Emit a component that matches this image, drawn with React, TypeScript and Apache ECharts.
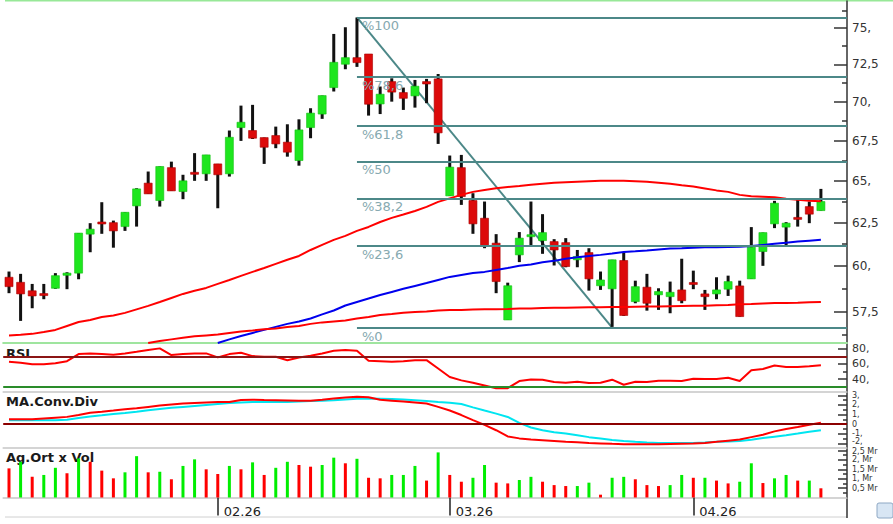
import { useEffect, useRef } from 'react';
import * as echarts from 'echarts';

// ---------- DATA ----------
// daily candles: [open, high, low, close]
const candleOHLC: [number, number, number, number][] = [
  [59.38, 59.70, 58.50, 58.86], [59.10, 59.57, 57.00, 58.46], [58.63, 59.01, 57.68, 58.35], [58.46, 59.01, 58.17, 58.39],
  [58.77, 59.61, 58.74, 59.47], [59.49, 59.66, 58.72, 59.61], [59.61, 61.89, 59.27, 61.89], [61.83, 62.47, 60.79, 62.12],
  [62.53, 63.71, 61.85, 62.43], [62.50, 62.62, 61.05, 62.02], [62.27, 63.11, 62.02, 63.11], [63.49, 64.55, 62.27, 64.51],
  [64.86, 65.57, 64.21, 64.21], [63.81, 65.88, 63.45, 65.88], [65.81, 66.18, 64.39, 64.39], [64.35, 65.37, 63.89, 65.00],
  [65.51, 66.71, 65.00, 65.41], [65.43, 66.60, 65.00, 66.60], [66.04, 66.04, 63.35, 65.37], [65.43, 68.14, 65.26, 67.71],
  [68.33, 69.75, 67.48, 68.67], [68.14, 69.80, 67.60, 67.65], [67.69, 67.69, 66.04, 67.08], [67.82, 68.39, 67.02, 67.29],
  [67.40, 68.54, 66.49, 66.77], [66.25, 68.86, 65.93, 68.18], [68.33, 69.58, 67.65, 69.26], [69.20, 70.41, 68.89, 70.41],
  [70.94, 74.60, 70.68, 72.64], [72.51, 75.07, 72.17, 72.96], [72.96, 75.76, 72.33, 72.62], [73.21, 73.21, 69.10, 69.84],
  [69.86, 71.01, 69.20, 70.50], [71.34, 71.56, 70.01, 70.64], [70.61, 70.94, 69.47, 70.23], [70.39, 71.45, 69.62, 71.03],
  [71.34, 71.52, 69.91, 71.18], [71.52, 71.85, 67.29, 67.99], [64.09, 66.56, 64.09, 65.84], [65.81, 66.60, 63.55, 64.05],
  [63.81, 64.25, 61.85, 62.43], [62.76, 63.75, 61.02, 61.17], [61.31, 61.83, 58.50, 59.14], [57.05, 59.08, 57.05, 58.91],
  [60.64, 61.95, 60.23, 61.60], [61.69, 63.75, 61.15, 61.79], [61.46, 63.00, 60.70, 61.92], [61.40, 61.54, 60.04, 60.92],
  [61.34, 61.60, 59.94, 59.98], [60.36, 60.92, 59.94, 60.55], [60.77, 61.02, 58.64, 59.29], [58.91, 59.70, 58.68, 59.23],
  [58.74, 60.36, 56.68, 60.36], [60.32, 60.79, 57.27, 57.29], [58.04, 59.19, 57.95, 58.86], [58.83, 59.57, 57.55, 57.95],
  [58.41, 58.77, 57.59, 58.59], [58.31, 59.14, 57.41, 58.55], [58.68, 60.42, 57.95, 58.09], [59.08, 59.75, 58.72, 58.99],
  [58.46, 58.68, 57.59, 58.31], [58.46, 59.38, 58.17, 58.68], [58.72, 59.47, 58.35, 59.14], [58.90, 59.19, 57.23, 57.23],
  [59.29, 62.24, 59.29, 61.08], [60.83, 61.92, 60.02, 61.92], [62.43, 63.79, 62.18, 63.65], [62.24, 62.53, 61.11, 62.47],
  [62.80, 63.91, 62.27, 62.70], [63.45, 63.75, 62.47, 63.00], [63.21, 64.51, 63.21, 63.75],
];

// moving averages (price)
const ma1: number[] = [
  56.23, 56.26, 56.31, 56.41, 56.52, 56.73, 56.94, 57.05, 57.21, 57.29,
  57.43, 57.62, 57.81, 58.02, 58.24, 58.46, 58.63, 58.79, 59.01, 59.23,
  59.46, 59.68, 59.90, 60.13, 60.36, 60.58, 60.92, 61.21, 61.50, 61.73,
  62.02, 62.25, 62.54, 62.78, 62.98, 63.19, 63.43, 63.73, 63.94, 64.15,
  64.33, 64.45, 64.55, 64.63, 64.69, 64.76, 64.82, 64.88, 64.91, 64.94,
  64.97, 65.00, 65.00, 65.00, 64.97, 64.94, 64.88, 64.82, 64.73, 64.65,
  64.54, 64.42, 64.33, 64.15, 64.06, 64.03, 64.00, 63.91, 63.85, 63.79,
  63.76,
];
const ma2Start = 18;
const ma2: number[] = [
  55.83, 56.02, 56.20, 56.36, 56.52, 56.68, 56.84, 56.97, 57.13, 57.35,
  57.56, 57.83, 58.02, 58.21, 58.40, 58.57, 58.74, 58.90, 59.06, 59.23,
  59.40, 59.51, 59.62, 59.68, 59.79, 59.90, 60.02, 60.10, 60.22, 60.30,
  60.42, 60.50, 60.58, 60.64, 60.72, 60.81, 60.84, 60.89, 60.95, 61.00,
  61.02, 61.05, 61.07, 61.08, 61.09, 61.11, 61.15, 61.21, 61.27, 61.33,
  61.40, 61.45, 61.50,
];
const ma3Start = 12;
const ma3: number[] = [
  55.83, 55.94, 56.02, 56.10, 56.18, 56.23, 56.28, 56.36, 56.44, 56.49,
  56.55, 56.60, 56.68, 56.73, 56.84, 56.92, 56.97, 57.02, 57.13, 57.21,
  57.32, 57.37, 57.43, 57.48, 57.51, 57.56, 57.59, 57.59, 57.61, 57.62,
  57.63, 57.64, 57.66, 57.67, 57.69, 57.70, 57.71, 57.72, 57.73, 57.74,
  57.75, 57.75, 57.76, 57.77, 57.78, 57.79, 57.80, 57.81, 57.82, 57.84,
  57.86, 57.89, 57.91, 57.94, 57.96, 57.97, 57.98, 58.00, 58.02,
];

const rsi: number[] = [
  62.7, 61.4, 59.6, 59.6, 61.0, 63.6, 72.8, 73.7, 72.8, 71.9,
  73.7, 75.8, 78.1, 80.3, 71.5, 72.8, 73.7, 73.7, 68.5, 72.8,
  74.5, 70.2, 69.3, 69.3, 64.9, 68.5, 70.6, 73.7, 77.2, 78.1,
  77.2, 64.0, 63.6, 62.7, 63.6, 64.9, 64.9, 54.0, 42.9, 38.5,
  35.5, 31.9, 28.3, 28.3, 37.6, 39.8, 39.4, 36.3, 35.5, 36.8,
  35.0, 35.5, 39.4, 32.8, 36.8, 36.3, 38.1, 38.1, 37.6, 40.7,
  40.3, 40.3, 42.0, 37.6, 51.7, 53.4, 57.9, 56.1, 56.1, 57.0,
  58.3,
];

const macd: number[] = [
  0.52, 0.52, 0.52, 0.6, 0.68, 0.76, 0.95, 1.2, 1.3, 1.42,
  1.55, 1.65, 1.8, 1.95, 2.05, 2.15, 2.2, 2.25, 2.3, 2.32,
  2.52, 2.55, 2.52, 2.5, 2.47, 2.44, 2.43, 2.55, 2.68, 2.78,
  2.85, 2.8, 2.55, 2.45, 2.35, 2.25, 2.15, 1.8, 1.42, 0.95,
  0.42, -0.08, -0.63, -1.28, -1.48, -1.6, -1.67, -1.75, -1.84, -1.88,
  -1.95, -2.0, -2.05, -2.08, -2.08, -2.08, -2.08, -2.06, -2.04, -2.02,
  -1.95, -1.84, -1.72, -1.6, -1.35, -1.1, -0.75, -0.5, -0.3, -0.05,
  0.14,
];
const macdSignal: number[] = [
  0.42, 0.42, 0.42, 0.42, 0.42, 0.45, 0.65, 0.8, 0.92, 1.05,
  1.17, 1.3, 1.45, 1.58, 1.7, 1.8, 1.9, 2.0, 2.1, 2.2,
  2.25, 2.3, 2.32, 2.32, 2.32, 2.35, 2.4, 2.45, 2.5, 2.58,
  2.65, 2.68, 2.65, 2.62, 2.57, 2.5, 2.42, 2.3, 2.22, 2.1,
  1.75, 1.42, 1.1, 0.75, 0.14, -0.35, -0.63, -0.83, -0.97, -1.15,
  -1.35, -1.5, -1.65, -1.75, -1.84, -1.9, -1.95, -1.95, -1.95, -1.95,
  -1.9, -1.84, -1.8, -1.74, -1.62, -1.45, -1.3, -1.15, -0.98, -0.8,
  -0.63,
];

// volume in millions, with bar colour (g = green, r = red)
const volume: number[] = [
  1.55, 1.9, 1.1, 1.2, 1.58, 1.29, 2.08, 1.9, 1.43, 1.02,
  1.34, 2.2, 1.34, 1.37, 0.97, 1.68, 2.03, 1.5, 1.25, 1.68,
  1.5, 1.87, 1.2, 1.58, 1.9, 1.73, 1.64, 1.73, 2.12, 1.82,
  2.06, 1.05, 1.02, 1.2, 1.2, 1.68, 0.9, 2.4, 1.2, 0.84,
  1.05, 1.73, 0.79, 0.75, 0.93, 1.1, 0.84, 0.66, 0.61, 0.61,
  0.79, 0.15, 1.05, 1.1, 0.97, 0.66, 0.61, 0.66, 1.2, 1.05,
  1.05, 0.9, 0.75, 0.84, 1.82, 0.77, 1.02, 1.2, 0.9, 0.9,
  0.49,
];
const volumeDir = 'rgrggrgrrr' + 'ggrgrggrrg' + 'rgrggrrggr' + 'grrgggrgrr' + 'ggrrggrrrg' + 'grggrrrggr' + 'grrggrggrg' + 'r';

// Fibonacci retracement
const fibHigh = 75.76;
const fibLow = 56.64;
const fibStartIndex = 30;
const fibEndIndex = 52;
const fibLevels = [100, 78.6, 61.8, 50, 38.2, 23.6, 0];
const fibLabels = ['%100', '%78,6', '%61,8', '%50', '%38,2', '%23,6', '%0'];

// axes
const monthTickIndex = [18, 38, 59];
const monthTickLabels = ['02.26', '03.26', '04.26'];
const priceAxisMin = 55.83;
const priceAxisMax = 76.94;
const priceTicks = [57.5, 60, 62.5, 65, 67.5, 70, 72.5, 75];
const priceTickLabels = ['57,5', '60,', '62,5', '65,', '67,5', '70,', '72,5', '75,'];
const priceMinorTicks = [56.25, 58.75, 61.25, 63.75, 66.25, 68.75, 71.25, 73.75, 76.25];
const rsiTicks = [40, 60, 80];
const rsiTickLabels = ['40,', '60,', '80,'];
const rsiMinorTicks = [30, 50, 70];
const macdTicks = [-2, -1, 0, 1, 2, 3];
const macdTickLabels = ['-2,', '-1,', '0', '1,', '2,', '3,'];
const macdMinorTicks = [-1.5, -0.5, 0.5, 1.5, 2.5];
const volTicks = [0.5, 1, 1.5, 2, 2.5];
const volTickLabels = ['0,5 Mr', '1, Mr', '1,5 Mr', '2, Mr', '2,5 Mr'];
const volMinorTicks = [0.25, 0.75, 1.25, 1.75, 2.25];

// ---------- CHART ----------
const FONT = 'DejaVu Sans';
const AXIS_COLOR = '#333';
const X_MIN = -0.5;
const X_MAX = 72.25;

function lookup(values: number[], labels: string[], v: number) {
  for (let k = 0; k < values.length; k++) {
    if (Math.abs(values[k] - v) < 1e-6) return labels[k];
  }
  return '';
}

function xAxisFor(gridIndex: number, color: string, width: number) {
  return {
    type: 'value', gridIndex, min: X_MIN, max: X_MAX,
    axisLine: { show: true, onZero: false, lineStyle: { color, width } },
    axisTick: { show: false }, axisLabel: { show: false }, splitLine: { show: false },
  };
}

// labelNudge: small shift (axis units) of the label at the panel edge so it stays clear of the neighbouring panel's label
function yMajor(gridIndex: number, min: number, max: number, ticks: number[], labels: string[], tickLen: number, fontSize: number,
  tf?: (x: number) => number, nudge?: { at: number; by: number }) {
  const f = tf || ((x: number) => x);
  const tickVals = ticks.map(f);
  const labelVals = ticks.map((t) => f(t) + (nudge && nudge.at === t ? nudge.by : 0));
  return {
    type: 'value', gridIndex, position: 'right', min, max,
    axisLine: { show: true, onZero: false, lineStyle: { color: AXIS_COLOR, width: 1.5 } },
    axisTick: { show: true, inside: true, length: tickLen, customValues: tickVals, lineStyle: { color: AXIS_COLOR, width: 1.5 } },
    axisLabel: {
      show: true, customValues: labelVals, margin: 5, fontSize, color: '#333', fontFamily: FONT,
      hideOverlap: false, showMinLabel: true, showMaxLabel: true,
      formatter: (v: number) => lookup(labelVals, labels, v),
    },
    splitLine: { show: false },
  };
}

function yMinor(gridIndex: number, min: number, max: number, ticks: number[], tickLen: number, tf?: (x: number) => number) {
  const f = tf || ((x: number) => x);
  return {
    type: 'value', gridIndex, position: 'right', min, max,
    axisLine: { show: false, onZero: false },
    axisTick: { show: true, inside: true, length: tickLen, customValues: ticks.map(f), lineStyle: { color: AXIS_COLOR, width: 1.5 } },
    axisLabel: { show: false },
    splitLine: { show: false },
  };
}

export default function App() {
  const ref = useRef<HTMLDivElement>(null);

  useEffect(() => {
    if (!ref.current) return;
    const chart = echarts.init(ref.current, undefined, { renderer: 'svg', width: 893, height: 524 });
    const ln = Math.log;

    const candleData = candleOHLC.map((c, i) => [i, ln(c[0]), ln(c[1]), ln(c[2]), ln(c[3])]);
    const ma1Data = ma1.map((v, i) => [i, ln(v)]);
    const ma2Data = ma2.map((v, k) => [k + ma2Start, ln(v)]);
    const ma3Data = ma3.map((v, k) => [k + ma3Start, ln(v)]);

    const fibColor = '#4c8888';
    const fibMarkData = fibLevels.map((p, k) => {
      const price = fibLow + (p / 100) * (fibHigh - fibLow);
      return [
        { name: fibLabels[k], coord: [fibStartIndex, ln(price)] },
        { coord: [X_MAX, ln(price)] },
      ];
    });

    const option: any = {
      animation: false,
      backgroundColor: '#ffffff',
      textStyle: { fontFamily: FONT },
      grid: [
        { left: 3.2, right: 46, top: 1, height: 342 },
        { left: 3.2, right: 46, top: 344, height: 47.5 },
        { left: 3.2, right: 46, top: 392, height: 55.7 },
        { left: 3.2, right: 46, top: 447.7, height: 49.8 },
      ],
      xAxis: [
        xAxisFor(0, '#9fe59f', 2),
        xAxisFor(1, '#c6c6c6', 1.5),
        xAxisFor(2, '#c6c6c6', 1.5),
        {
          ...xAxisFor(3, '#c6c6c6', 1.5),
          axisTick: { show: true, customValues: monthTickIndex, length: 18, inside: false, lineStyle: { color: '#222', width: 1.5 } },
          axisLabel: {
            show: true, customValues: monthTickIndex, align: 'left', margin: 7, padding: [0, 0, 0, 6],
            fontSize: 13, color: '#222', fontFamily: FONT,
            formatter: (v: number) => lookup(monthTickIndex, monthTickLabels, v),
          },
        },
      ],
      yAxis: [
        yMajor(0, ln(priceAxisMin), ln(priceAxisMax), priceTicks, priceTickLabels, 13, 12, ln),
        yMinor(0, ln(priceAxisMin), ln(priceAxisMax), priceMinorTicks, 5, ln),
        yMajor(1, 24, 86, rsiTicks, rsiTickLabels, 9, 11),
        yMinor(1, 24, 86, rsiMinorTicks, 4),
        yMajor(2, -2.45, 3.35, macdTicks, macdTickLabels, 9, 8, undefined, { at: -2, by: 0.15 }),
        yMinor(2, -2.45, 3.35, macdMinorTicks, 4),
        yMajor(3, 0, 2.65, volTicks, volTickLabels, 9, 8, undefined, { at: 2.5, by: -0.07 }),
        yMinor(3, 0, 2.65, volMinorTicks, 4),
      ],
      series: [
        {
          name: 'Fibonacci', type: 'line', xAxisIndex: 0, yAxisIndex: 0, z: 1,
          data: [[fibStartIndex, ln(fibHigh)], [fibEndIndex, ln(fibLow)]],
          symbol: 'none', silent: true,
          lineStyle: { color: fibColor, width: 2 },
          markLine: {
            silent: true, symbol: ['none', 'none'],
            lineStyle: { color: fibColor, width: 2, type: 'solid' },
            label: {
              show: true, position: 'insideStartBottom', formatter: '{b}', distance: [5, 2],
              color: '#86a9b0', fontSize: 13, fontFamily: FONT,
            },
            data: fibMarkData,
          },
        },
        {
          name: 'Price', type: 'custom', xAxisIndex: 0, yAxisIndex: 0, z: 2, clip: true,
          encode: { x: 0, y: [1, 2, 3, 4] },
          data: candleData,
          renderItem: (_params: any, api: any) => {
            const i = api.value(0);
            const o = api.value(1), h = api.value(2), l = api.value(3), c = api.value(4);
            const pH = api.coord([i, h]);
            const pL = api.coord([i, l]);
            const pO = api.coord([i, o]);
            const pC = api.coord([i, c]);
            const up = c >= o;
            let top = Math.min(pO[1], pC[1]);
            let bh = Math.abs(pO[1] - pC[1]);
            if (bh < 2) { top -= (2 - bh) / 2; bh = 2; }
            const w = 8;
            return {
              type: 'group',
              children: [
                { type: 'line', shape: { x1: pH[0], y1: pH[1], x2: pL[0], y2: pL[1] }, style: { stroke: '#111', lineWidth: 3 } },
                {
                  type: 'rect', shape: { x: pO[0] - w / 2, y: top, width: w, height: bh },
                  style: up ? { fill: '#1ee61e', stroke: '#12c012', lineWidth: 0.6 } : { fill: '#dc0a0a', stroke: '#a80000', lineWidth: 0.6 },
                },
              ],
            };
          },
        },
        { name: 'MA1', type: 'line', xAxisIndex: 0, yAxisIndex: 0, z: 3, data: ma1Data, symbol: 'none', silent: true, lineStyle: { color: '#ff0000', width: 2 } },
        { name: 'MA2', type: 'line', xAxisIndex: 0, yAxisIndex: 0, z: 3, data: ma2Data, symbol: 'none', silent: true, lineStyle: { color: '#0000ee', width: 2 } },
        { name: 'MA3', type: 'line', xAxisIndex: 0, yAxisIndex: 0, z: 3, data: ma3Data, symbol: 'none', silent: true, lineStyle: { color: '#ff0000', width: 2 } },
        {
          name: 'RSI', type: 'line', xAxisIndex: 1, yAxisIndex: 2, z: 3,
          data: rsi.map((v, i) => [i, v]), symbol: 'none', silent: true,
          lineStyle: { color: '#ff0000', width: 2 },
          markLine: {
            silent: true, symbol: ['none', 'none'], label: { show: false },
            data: [
              { yAxis: 70, lineStyle: { color: '#8b1515', width: 2, type: 'solid' } },
              { yAxis: 30, lineStyle: { color: '#2a8c2a', width: 2, type: 'solid' } },
            ],
          },
        },
        {
          name: 'MACD', type: 'line', xAxisIndex: 2, yAxisIndex: 4, z: 3,
          data: macd.map((v, i) => [i, v]), symbol: 'none', silent: true,
          lineStyle: { color: '#ff0000', width: 2 },
          markLine: {
            silent: true, symbol: ['none', 'none'], label: { show: false },
            data: [{ yAxis: 0, lineStyle: { color: '#8b0000', width: 2, type: 'solid' } }],
          },
        },
        {
          name: 'Signal', type: 'line', xAxisIndex: 2, yAxisIndex: 4, z: 2,
          data: macdSignal.map((v, i) => [i, v]), symbol: 'none', silent: true,
          lineStyle: { color: '#00e5f0', width: 2 },
        },
        {
          name: 'Volume', type: 'bar', xAxisIndex: 3, yAxisIndex: 6, barWidth: 3, silent: true,
          data: volume.map((v, i) => ({
            value: [i, v],
            itemStyle: { color: volumeDir[i] === 'g' ? '#00ee00' : '#ff0000' },
          })),
        },
      ],
      graphic: [
        { type: 'line', shape: { x1: 5, y1: 0.5, x2: 893, y2: 0.5 }, style: { stroke: '#98e898', lineWidth: 2 }, silent: true },
        { type: 'line', shape: { x1: 5, y1: 517, x2: 847, y2: 517 }, style: { stroke: '#d0d0d0', lineWidth: 1 }, silent: true },
        { type: 'line', shape: { x1: 847, y1: 497, x2: 847, y2: 518 }, style: { stroke: AXIS_COLOR, lineWidth: 1.5 }, silent: true },
        { type: 'text', x: 6, y: 353, style: { text: 'RSI', font: `bold 13px "${FONT}"`, fill: '#1a1a1a', verticalAlign: 'middle' }, silent: true },
        { type: 'text', x: 6, y: 401, style: { text: 'MA.Conv.Div', font: `bold 13px "${FONT}"`, fill: '#1a1a1a', verticalAlign: 'middle' }, silent: true },
        { type: 'text', x: 6, y: 457, style: { text: 'Ag.Ort x Vol', font: `bold 13px "${FONT}"`, fill: '#1a1a1a', verticalAlign: 'middle' }, silent: true },
        { type: 'rect', shape: { x: 877, y: 503, width: 16, height: 15, r: 2 }, style: { fill: '#d8e6f4', stroke: '#8ea8c4', lineWidth: 1 }, silent: true },
      ],
    };

    chart.setOption(option);
    return () => chart.dispose();
  }, []);

  return (
    <div
      ref={ref}
      style={{ position: 'fixed', left: 0, top: 0, width: 893, height: 524, background: '#ffffff' }}
    />
  );
}
